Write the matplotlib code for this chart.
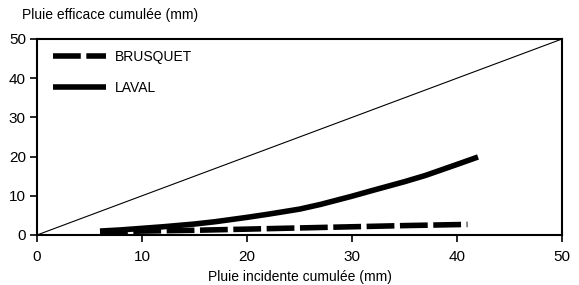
import matplotlib
matplotlib.use("Agg")
import matplotlib.pyplot as plt

plt.rcParams['font.family'] = ['Liberation Sans', 'DejaVu Sans']

diag_x = [0, 50]
diag_y = [0, 50]

laval_x = [6, 8, 10, 12, 15, 17, 20, 22, 25, 27, 30, 32, 35, 37, 40, 42]
laval_y = [1.0, 1.3, 1.7, 2.1, 2.8, 3.4, 4.5, 5.3, 6.6, 7.8, 9.9, 11.4, 13.6, 15.2, 18.0, 19.9]

brusquet_x = [6, 10, 15, 20, 25, 30, 35, 41]
brusquet_y = [0.8, 1.0, 1.2, 1.5, 1.8, 2.1, 2.4, 2.7]

xticks = [0, 10, 20, 30, 40, 50]
yticks = [0, 10, 20, 30, 40, 50]

fig = plt.figure(figsize=(5.79, 2.85), dpi=100)
ax = fig.add_axes([37/579, 1-235/285, (562-37)/579, (235-39)/285])

ax.plot(diag_x, diag_y, color='black', lw=0.8)
ax.plot(brusquet_x, brusquet_y, color='black', lw=4, dashes=(5, 1.0), label='BRUSQUET',
        dash_capstyle='butt')
ax.plot(laval_x, laval_y, color='black', lw=4, label='LAVAL', solid_capstyle='butt',
        solid_joinstyle='round')

ax.set_xlim(0, 50)
ax.set_ylim(0, 50)
ax.set_xticks(xticks)
ax.set_yticks(yticks)
ax.tick_params(direction='out', length=5, width=1.2, labelsize=11, pad=3)
ax.tick_params(axis='x', pad=6)
for s in ax.spines.values():
    s.set_linewidth(1.5)

leg = ax.legend(loc='upper left', frameon=False, fontsize=10, handlelength=3.8,
                handletextpad=0.6, labelspacing=1.2, borderaxespad=0.4,
                bbox_to_anchor=(0.01, 1.0))

fig.text(22/579, 1-15/285, 'Pluie efficace cumulée (mm)', fontsize=10, ha='left', va='center')
ax.set_xlabel('Pluie incidente cumulée (mm)', fontsize=10, labelpad=4)

fig.savefig('out.png', dpi=100)
